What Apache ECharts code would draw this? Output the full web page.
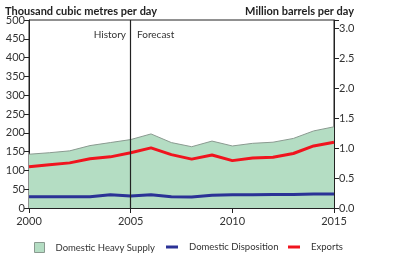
<!DOCTYPE html>
<html>
<head>
<meta charset="utf-8">
<script src="https://cdn.jsdelivr.net/npm/echarts@6/dist/echarts.min.js"></script>
<style>
  html, body { margin: 0; padding: 0; background: #fff; }
  #chart { width: 400px; height: 257px; }
</style>
</head>
<body>
<div id="chart"></div>
<script>
var years = [2000, 2001, 2002, 2003, 2004, 2005, 2006, 2007, 2008, 2009, 2010, 2011, 2012, 2013, 2014, 2015];
var heavySupply = [143, 147, 152, 166, 174, 182, 197, 174, 163, 178, 165, 172, 175, 185, 205, 216];
var disposition = [30, 30, 30, 30, 35, 32, 35, 30, 29, 34, 35, 35, 36, 36, 37, 37];
var exportsVals = [110, 115, 120, 131, 136, 147, 160, 142, 130, 141, 126, 133, 135, 145, 165, 175];

var font = "Lato";
var green = "#b4ddc3";
var blue = "#2b3296";
var red = "#f0141e";

function pairs(vals) {
  return years.map(function (y, i) { return [y, vals[i]]; });
}

function legendAt(left, name, w, h, color, border) {
  return {
    left: left, top: 237,
    itemWidth: w, itemHeight: h,
    icon: "rect",
    textStyle: { fontSize: 9.5, color: "#333", fontFamily: font, padding: [0, 0, 0, 6] },
    data: [{ name: name, itemStyle: border ? { color: color, borderColor: "#8a9a90", borderWidth: 1 } : { color: color } }]
  };
}

var chart = echarts.init(document.getElementById("chart"));

chart.setOption({
  animation: false,
  textStyle: { fontFamily: font },
  title: [
    {
      text: "Thousand cubic metres per day",
      left: 0, top: 1,
      textStyle: { fontSize: 11, fontWeight: "bold", color: "#222", fontFamily: font }
    },
    {
      text: "Million barrels per day",
      right: 41, top: 1,
      textStyle: { fontSize: 11, fontWeight: "bold", color: "#222", fontFamily: font }
    }
  ],
  grid: {
    left: 29, right: 66, top: 20, bottom: 49,
    show: true, borderColor: "#222", borderWidth: 1
  },
  legend: [
    legendAt(29, "Domestic Heavy Supply", 10, 10, green, true),
    legendAt(161, "Domestic Disposition", 12, 3, blue, false),
    legendAt(283, "Exports", 12, 3, red, false)
  ],
  xAxis: {
    type: "value",
    min: 2000, max: 2015, interval: 5,
    axisLine: { show: true, lineStyle: { color: "#222" } },
    axisTick: { show: true, length: 5, lineStyle: { color: "#222" } },
    axisLabel: { fontSize: 11, color: "#333", margin: 8, formatter: function (v) { return String(v); } },
    splitLine: { show: false }
  },
  yAxis: [
    {
      type: "value",
      min: 0, max: 500, interval: 50,
      axisLine: { show: true, lineStyle: { color: "#222" } },
      axisTick: { show: true, length: 5, lineStyle: { color: "#222" } },
      axisLabel: { fontSize: 11, color: "#333", margin: 4 },
      splitLine: { show: false }
    },
    {
      type: "value",
      min: 0, max: 3.145, interval: 0.5,
      position: "right",
      axisLine: { show: true, lineStyle: { color: "#222" } },
      axisTick: { show: true, length: 5, lineStyle: { color: "#222" } },
      axisLabel: {
        fontSize: 11, color: "#333", margin: 5,
        formatter: function (v) { return v > 3.1 ? "" : v.toFixed(1); }
      },
      splitLine: { show: false }
    }
  ],
  graphic: [
    { type: "text", right: 274, top: 30, style: { text: "History", fontSize: 10, fill: "#333", fontFamily: font } },
    { type: "text", left: 137, top: 30, style: { text: "Forecast", fontSize: 10, fill: "#333", fontFamily: font } }
  ],
  series: [
    {
      name: "Domestic Heavy Supply",
      type: "line",
      data: pairs(heavySupply),
      symbol: "none",
      lineStyle: { color: "#8a9a90", width: 1 },
      itemStyle: { color: green },
      areaStyle: { color: green, opacity: 1 },
      markLine: {
        silent: true,
        symbol: "none",
        label: { show: false },
        lineStyle: { color: "#222", width: 1.2, type: "solid" },
        data: [{ xAxis: 2005 }]
      }
    },
    {
      name: "Domestic Disposition",
      type: "line",
      data: pairs(disposition),
      symbol: "none",
      lineStyle: { color: blue, width: 3 },
      itemStyle: { color: blue }
    },
    {
      name: "Exports",
      type: "line",
      data: pairs(exportsVals),
      symbol: "none",
      lineStyle: { color: red, width: 3 },
      itemStyle: { color: red }
    }
  ]
});
</script>
</body>
</html>
